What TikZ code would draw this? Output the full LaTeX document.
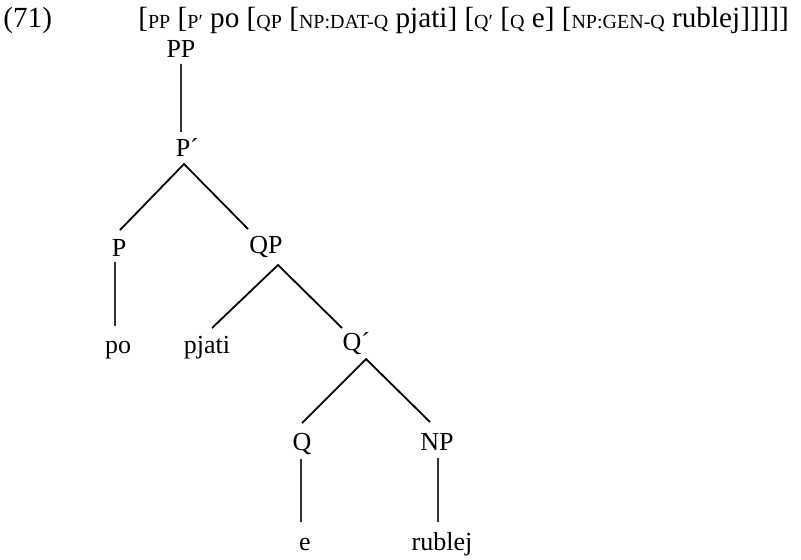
\documentclass[tikz,border=0pt]{standalone}
\usepackage{fontspec}
\setmainfont{Liberation Serif}
\usetikzlibrary{calc}
% small-caps style category label set after an opening bracket
\newcommand\catlab[1]{\raisebox{-0.5pt}{\fontsize{10}{12}\selectfont #1}}
\begin{document}
\begin{tikzpicture}[x=0.5pt,y=-0.5pt,
    lbl/.style={font=\fontsize{13}{15}\selectfont, inner sep=0pt, anchor=base},
    headtext/.style={font=\fontsize{14.6}{17}\selectfont, inner sep=0pt, anchor=base west},
    branch/.style={line width=0.9pt, black},
    stem/.style={line width=0.55pt, black!80}]
  \useasboundingbox (0,0) rectangle (801,559);

  % example number and labelled bracketing
  \node[headtext] (num) at (3,27) {(71)};
  \node[headtext] (brk) at (138,27)
    {[\catlab{PP} [\catlab{P′} po [\catlab{QP} [\catlab{NP:DAT-Q} pjati] [\catlab{Q′} [\catlab{Q} e] [\catlab{NP:GEN-Q} rublej]]]]]};

  % tree labels
  \node[lbl] (PP)     at (181,57)  {PP};
  \node[lbl] (Pb)     at (183,156) {P\rlap{´}};
  \node[lbl] (P)      at (119,256) {P};
  \node[lbl] (QP)     at (266,253) {QP};
  \node[lbl] (po)     at (118,353) {po};
  \node[lbl] (pjati)  at (207,353) {pjati};
  \node[lbl] (Qb)     at (352,350) {Q\rlap{´}};
  \node[lbl] (Q)      at (302,450) {Q};
  \node[lbl] (NP)     at (437,450) {NP};
  \node[lbl] (e)      at (305,550) {e};
  \node[lbl] (rublej) at (442,550) {rublej};

  % unary stems
  \draw[stem] ($(PP.base)+(0,7)$) -- ($(Pb.base)+(-2,-24)$);
  \draw[stem] ($(P.base)+(-4,6)$) -- ($(po.base)+(-3,-27)$);
  \draw[stem] ($(Q.base)+(-1,9)$) -- ($(e.base)+(-4,-28)$);
  \draw[stem] ($(NP.base)+(1,8)$) -- ($(rublej.base)+(-4,-28)$);

  % binary branches
  \draw[branch] ($(P.base)+(1,-26)$) -- ($(Pb.base)+(1,8)$) -- ($(QP.base)+(-18,-24)$);
  \draw[branch] ($(pjati.base)+(5,-25)$) -- ($(QP.base)+(12,12)$) -- ($(Qb.base)+(-10,-22)$);
  \draw[branch] ($(Q.base)+(0,-27)$) -- ($(Qb.base)+(14,9)$) -- ($(NP.base)+(-7,-28)$);
\end{tikzpicture}
\end{document}
